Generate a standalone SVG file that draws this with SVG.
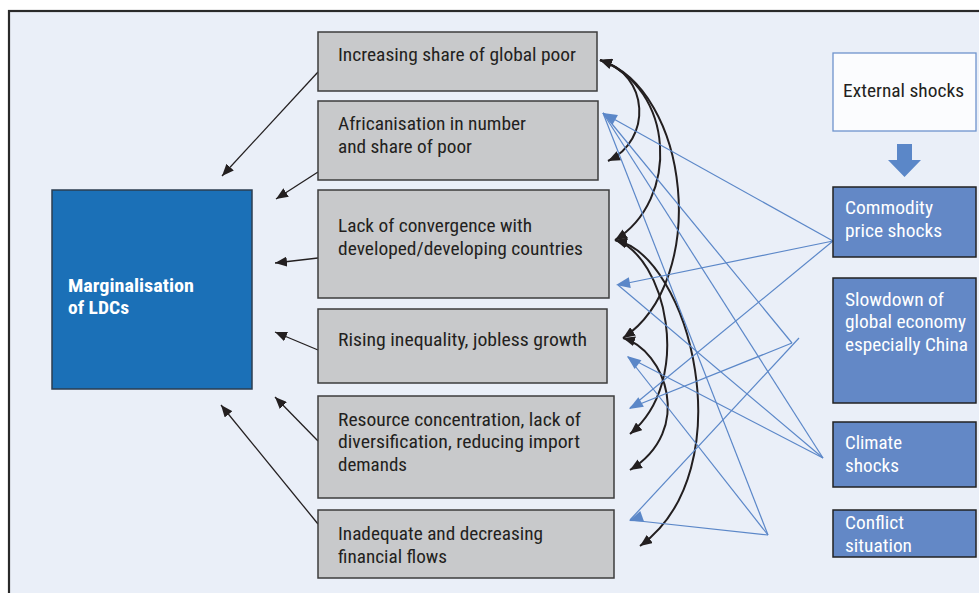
<svg xmlns="http://www.w3.org/2000/svg" xmlns:xlink="http://www.w3.org/1999/xlink" width="979" height="593" viewBox="0 0 979 593">
  <style>
    .frame { fill: #EAEFF8; stroke: #2a2a2a; stroke-width: 2.2; }
    .gray { fill: #C8C9CB; stroke: #3d3d3d; stroke-width: 1.5; }
    .main { fill: #1B70B7; stroke: #2c3e50; stroke-width: 1.5; }
    .shock { fill: #6388C6; stroke: #222; stroke-width: 1.5; }
    .ext { fill: #FBFCFE; stroke: #6E93CC; stroke-width: 1.3; }
    text { font-family: "Liberation Sans Narrow", "Roboto Condensed", "Roboto", "Liberation Sans", sans-serif; font-size: 19px; }
    .dark { fill: #231F20; }
    .light { fill: #FFFFFF; }
    .bold { font-weight: bold; font-size: 18.5px; }
    .link { fill: none; stroke: #231F20; stroke-width: 1.3; }
    .arc { fill: none; stroke: #231F20; stroke-width: 2; }
    .blue { fill: none; stroke: #5B87C8; stroke-width: 1.2; }
    .bhead { fill: #5B87C8; }
  </style>
  <defs>
    <marker id="ah" viewBox="0 0 12 10" refX="12" refY="5" markerWidth="12" markerHeight="10" markerUnits="userSpaceOnUse" orient="auto-start-reverse">
      <path d="M0,0 L12,5 L0,10 z" fill="#231F20"/>
    </marker>
    <!-- blue arrowhead, tip at origin, pointing towards -x -->
    <path id="bh" d="M0,0 L14,-5.5 L14,5.5 z"/>
  </defs>

  <rect class="frame" x="9" y="11" width="1000" height="600"/>

  <g id="connectors">
    <!-- causes feeding marginalisation -->
    <line class="link" x1="318" y1="72" x2="222" y2="176" marker-end="url(#ah)"/>
    <line class="link" x1="318" y1="172" x2="276" y2="199" marker-end="url(#ah)"/>
    <line class="link" x1="318" y1="258" x2="275" y2="263" marker-end="url(#ah)"/>
    <line class="link" x1="318" y1="350" x2="275" y2="332" marker-end="url(#ah)"/>
    <line class="link" x1="318" y1="441" x2="275" y2="397" marker-end="url(#ah)"/>
    <line class="link" x1="318" y1="524" x2="221" y2="405" marker-end="url(#ah)"/>

    <!-- links among the causes -->
    <path class="arc" d="M600,60 C650,75 652,140 608,161" marker-start="url(#ah)" marker-end="url(#ah)"/>
    <path class="arc" d="M600,60 C675,88 680,200 615,240" marker-start="url(#ah)" marker-end="url(#ah)"/>
    <path class="arc" d="M600,60 C690,90 710,280 623,338" marker-start="url(#ah)" marker-end="url(#ah)"/>
    <path class="arc" d="M615,240 C665,255 695,380 630,434" marker-start="url(#ah)" marker-end="url(#ah)"/>
    <path class="arc" d="M623,338 C665,350 695,430 630,470" marker-start="url(#ah)" marker-end="url(#ah)"/>
    <path class="arc" d="M615,240 C690,255 745,470 640,546" marker-start="url(#ah)" marker-end="url(#ah)"/>

    <!-- shock channels -->
    <line class="blue" x1="603" y1="113" x2="833" y2="241"/>
    <line class="blue" x1="603" y1="113" x2="792" y2="343"/>
    <line class="blue" x1="603" y1="113" x2="823" y2="458"/>
    <line class="blue" x1="603" y1="113" x2="768" y2="535"/>
    <line class="blue" x1="618" y1="285" x2="833" y2="241"/>
    <line class="blue" x1="618" y1="285" x2="823" y2="458"/>
    <line class="blue" x1="628" y1="357" x2="823" y2="458"/>
    <line class="blue" x1="628" y1="357" x2="768" y2="535"/>
    <line class="blue" x1="630" y1="408" x2="833" y2="241"/>
    <line class="blue" x1="630" y1="408" x2="792" y2="343"/>
    <line class="blue" x1="630" y1="520" x2="768" y2="535"/>
    <line class="blue" x1="630" y1="520" x2="799" y2="338"/>
    <use href="#bh" class="bhead" transform="translate(603,113) rotate(29)"/>
    <use href="#bh" class="bhead" transform="translate(616,285) rotate(-10)"/>
    <use href="#bh" class="bhead" transform="translate(627,356) rotate(38)"/>
    <use href="#bh" class="bhead" transform="translate(629,409) rotate(-30)"/>
    <use href="#bh" class="bhead" transform="translate(629,521) rotate(-20)"/>
  </g>

  <g id="marginalisation">
    <rect class="main" x="52" y="190" width="200" height="199"/>
    <text class="light bold" x="68" y="292" textLength="126" lengthAdjust="spacingAndGlyphs">Marginalisation</text>
    <text class="light bold" x="68" y="314" textLength="61" lengthAdjust="spacingAndGlyphs">of LDCs</text>
  </g>

  <g id="global-poor">
    <rect class="gray" x="318" y="32" width="279" height="59"/>
    <text class="dark" x="338" y="61" textLength="238" lengthAdjust="spacingAndGlyphs">Increasing share of global poor</text>
  </g>
  <g id="africanisation">
    <rect class="gray" x="318" y="101" width="280" height="79"/>
    <text class="dark" x="338" y="130" textLength="188" lengthAdjust="spacingAndGlyphs">Africanisation in number</text>
    <text class="dark" x="338" y="153" textLength="134" lengthAdjust="spacingAndGlyphs">and share of poor</text>
  </g>
  <g id="convergence">
    <rect class="gray" x="318" y="190" width="291" height="108"/>
    <text class="dark" x="338" y="232" textLength="194" lengthAdjust="spacingAndGlyphs">Lack of convergence with</text>
    <text class="dark" x="338" y="255" textLength="245" lengthAdjust="spacingAndGlyphs">developed/developing countries</text>
  </g>
  <g id="inequality">
    <rect class="gray" x="318" y="309" width="289" height="74"/>
    <text class="dark" x="338" y="346" textLength="249" lengthAdjust="spacingAndGlyphs">Rising inequality, jobless growth</text>
  </g>
  <g id="concentration">
    <rect class="gray" x="318" y="396" width="296" height="102"/>
    <text class="dark" x="338" y="426" textLength="243" lengthAdjust="spacingAndGlyphs">Resource concentration, lack of</text>
    <text class="dark" x="338" y="448" textLength="242" lengthAdjust="spacingAndGlyphs">diversification, reducing import</text>
    <text class="dark" x="338" y="471" textLength="69" lengthAdjust="spacingAndGlyphs">demands</text>
  </g>
  <g id="financial-flows">
    <rect class="gray" x="318" y="510" width="296" height="68"/>
    <text class="dark" x="338" y="540" textLength="205" lengthAdjust="spacingAndGlyphs">Inadequate and decreasing</text>
    <text class="dark" x="338" y="563" textLength="109" lengthAdjust="spacingAndGlyphs">financial flows</text>
  </g>

  <g id="external-shocks">
    <rect class="ext" x="833" y="53" width="143" height="78"/>
    <text class="dark" x="843" y="97" textLength="121" lengthAdjust="spacingAndGlyphs">External shocks</text>
    <polygon fill="#5B87C8" points="897,144 912,144 912,160 921,160 904.5,177 888,160 897,160"/>
  </g>
  <g id="commodity">
    <rect class="shock" x="833" y="187" width="143" height="70"/>
    <text class="light" x="845" y="214" textLength="88" lengthAdjust="spacingAndGlyphs">Commodity</text>
    <text class="light" x="845" y="237" textLength="97" lengthAdjust="spacingAndGlyphs">price shocks</text>
  </g>
  <g id="slowdown">
    <rect class="shock" x="833" y="278" width="143" height="125"/>
    <text class="light" x="845" y="306" textLength="99" lengthAdjust="spacingAndGlyphs">Slowdown of</text>
    <text class="light" x="845" y="328" textLength="121" lengthAdjust="spacingAndGlyphs">global economy</text>
    <text class="light" x="845" y="351" textLength="123" lengthAdjust="spacingAndGlyphs">especially China</text>
  </g>
  <g id="climate">
    <rect class="shock" x="833" y="422" width="143" height="65"/>
    <text class="light" x="845" y="449" textLength="57" lengthAdjust="spacingAndGlyphs">Climate</text>
    <text class="light" x="845" y="472" textLength="54" lengthAdjust="spacingAndGlyphs">shocks</text>
  </g>
  <g id="conflict">
    <rect class="shock" x="833" y="510" width="143" height="47"/>
    <text class="light" x="845" y="529" textLength="59" lengthAdjust="spacingAndGlyphs">Conflict</text>
    <text class="light" x="845" y="552" textLength="67" lengthAdjust="spacingAndGlyphs">situation</text>
  </g>
</svg>
